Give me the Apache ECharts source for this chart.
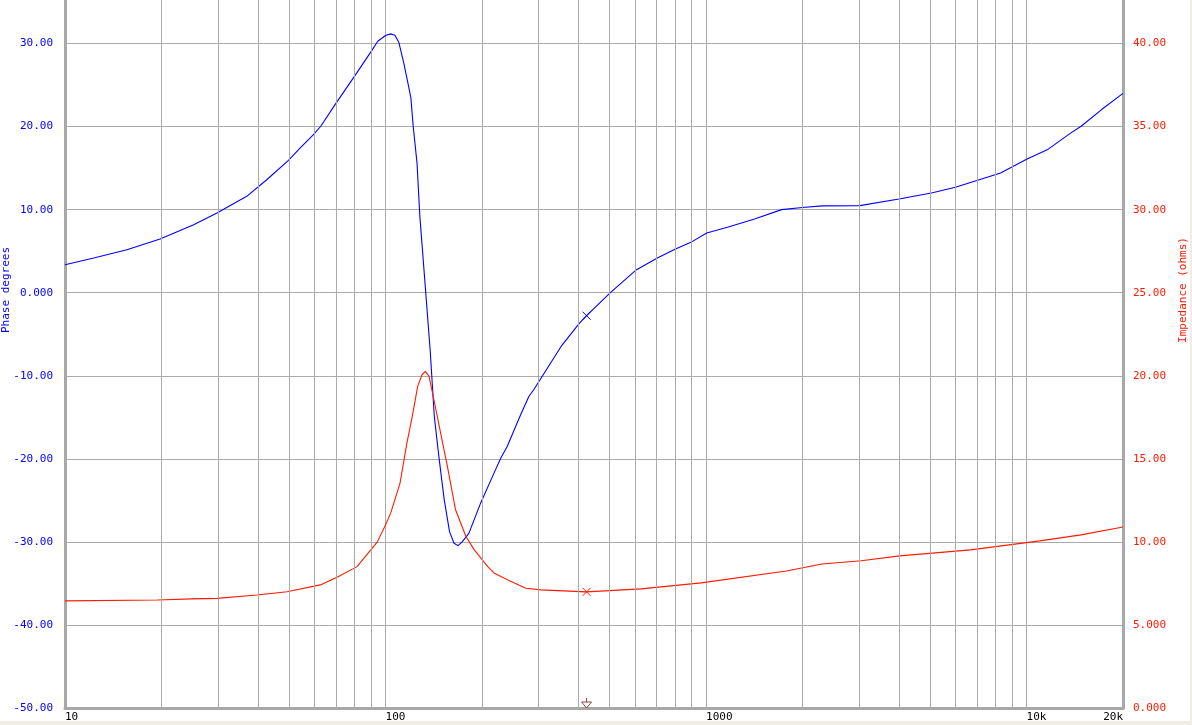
<!DOCTYPE html>
<html><head><meta charset="utf-8">
<script src="https://cdn.jsdelivr.net/npm/echarts@6/dist/echarts.min.js"></script>
<style>
html,body{margin:0;padding:0;background:#f0eee4;}
#bg{position:absolute;left:0;top:0;width:1190px;height:721px;background:#ffffff;}
#chart{position:absolute;left:0;top:0;width:1192px;height:725px;}
</style></head><body><div id="bg"></div><div id="chart"></div>
<script>
// Phase (degrees) vs frequency (Hz)
const phaseFreq = [10,12.3,15.6,19.8,25.2,29.8,36.9,42.6,49.8,54.2,59.6,62.8,69.6,79.4,89.6,94.6,100,103.7,107,110,114,118,120,122,125.4,128,137.8,142,146.7,152.5,158.4,163.6,168.4,173.7,182,198,218,229,239.7,264,280,290,313,353,403,424,504,607,705,800,897,1005,1166,1418,1720,2000,2300,3020,4000,5050,6000,7000,8300,10040,11600,13760,14800,17150,20000];
const phaseDeg  = [3.37,4.18,5.18,6.47,8.19,9.6,11.6,13.6,15.94,17.43,19.04,20.04,22.65,25.87,28.88,30.28,30.96,31.16,31.0,30.16,27.67,24.86,23.46,20.04,15.63,9.19,-6.87,-14.9,-19.7,-24.94,-28.76,-30.16,-30.45,-29.96,-28.98,-25.34,-21.72,-19.9,-18.52,-14.7,-12.5,-11.69,-9.67,-6.47,-3.66,-2.77,0.04,2.77,4.18,5.24,6.06,7.19,7.87,8.87,10.0,10.25,10.45,10.48,11.28,12.0,12.69,13.5,14.42,16.1,17.2,19.24,20.04,22.05,24.0];
// Impedance (ohms) vs frequency (Hz)
const impFreq = [10,19.4,24.9,29.8,39.7,49.3,62.6,70.6,81.5,94.3,100,103.8,111,116.6,121.2,126,130,133.2,136.7,143,148.6,156,165.4,178.2,189.3,208.5,218.8,241,274,305,424,627,966,1780,2300,3050,4020,6700,11000,14800,20000];
const impOhm  = [6.45,6.5,6.57,6.6,6.8,7.0,7.41,7.87,8.51,10.0,11.02,11.73,13.54,15.95,17.55,19.36,20.06,20.26,19.96,18.15,16.55,14.54,11.93,10.32,9.52,8.51,8.11,7.71,7.21,7.11,6.99,7.17,7.53,8.25,8.67,8.86,9.16,9.52,10.06,10.42,10.9];
// cursor
const cursorFreq = [424];
const cursorPhase = [-2.77];
const cursorImp = [6.99];
// minor vertical grid lines (Hz)
const minorGrid = [20,30,40,50,60,70,80,90,200,300,400,500,600,700,800,900,2000,3000,4000,5000,6000,7000,8000,9000];
// tick labels
const xTickValues = [10,100,1000,10000];
const xTickTexts = ['10','100','1000','10k'];
const xEndValue = [20000];
const xEndText = ['20k'];

const FONT = 'DejaVu Sans Mono';
const BLUE = '#0000ff';
const RED = '#ff1a00';
const GRID = '#ababab';

function numFmt(v){ return Math.abs(v) >= 10 ? v.toFixed(2) : v.toFixed(3); }
function xLab(v){ const i = xTickValues.findIndex(t => Math.abs(t - v) / t < 1e-6); return i >= 0 ? xTickTexts[i] : ''; }
function xEnd(v){ return Math.abs(v - xEndValue[0]) / xEndValue[0] < 1e-6 ? xEndText[0] : ''; }

const chart = echarts.init(document.getElementById('chart'));
chart.setOption({
  animation: false,
  backgroundColor: 'transparent',
  grid: { left: 65, right: 69, top: 0, bottom: 17, containLabel: false, outerBoundsMode: 'none' },
  xAxis: [{
    type: 'log', logBase: 10, min: 10, max: 20000, position: 'bottom',
    axisLine: { show: true, onZero: false, lineStyle: { color: '#a8a8a8', width: 3 } },
    axisTick: { show: false },
    axisLabel: { show: true, formatter: xLab, align: 'left', margin: 4, color: '#000', fontFamily: FONT, fontSize: 11, showMinLabel: true, showMaxLabel: true, hideOverlap: false },
    splitLine: { show: true, showMinLine: false, showMaxLine: false, lineStyle: { color: GRID, width: 1 } }
  }, {
    type: 'log', logBase: 10, min: 10, max: 20000, position: 'bottom', gridIndex: 0,
    axisLine: { show: false, onZero: false }, axisTick: { show: false }, splitLine: { show: false },
    axisLabel: { show: true, formatter: xEnd, align: 'right', margin: 4, color: '#000', fontFamily: FONT, fontSize: 11, showMinLabel: false, showMaxLabel: true, hideOverlap: false }
  }],
  yAxis: [{
    type: 'value', min: -50, max: 35.24, interval: 10, position: 'left',
    name: 'Phase degrees', nameLocation: 'middle', nameGap: 53, nameMoveOverlap: false,
    nameTextStyle: { color: BLUE, fontFamily: FONT, fontSize: 11, padding: [0, 0, 0, 128] },
    axisLine: { show: true, onZero: false, lineStyle: { color: '#a8a8a8', width: 3 } },
    axisTick: { show: false },
    axisLabel: { formatter: numFmt, color: BLUE, fontFamily: FONT, fontSize: 11, margin: 12, showMaxLabel: false, showMinLabel: true },
    splitLine: { show: true, showMinLine: false, showMaxLine: false, lineStyle: { color: GRID, width: 1 } }
  }, {
    type: 'value', min: 0, max: 42.62, interval: 5, position: 'right',
    name: 'Impedance (ohms)', nameLocation: 'middle', nameGap: 55, nameMoveOverlap: false,
    nameTextStyle: { color: RED, fontFamily: FONT, fontSize: 11, padding: [0, 0, 0, 128] },
    axisLine: { show: true, onZero: false, lineStyle: { color: '#a8a8a8', width: 3 } },
    axisTick: { show: false },
    axisLabel: { formatter: numFmt, color: RED, fontFamily: FONT, fontSize: 11, margin: 10, showMaxLabel: false, showMinLabel: true },
    splitLine: { show: false }
  }],
  series: [{
    type: 'line', name: 'minor grid', xAxisIndex: 0, yAxisIndex: 0, data: [], z: 1, silent: true,
    markLine: {
      silent: true, symbol: ['none', 'none'], label: { show: false },
      lineStyle: { color: GRID, width: 1, type: 'solid' },
      emphasis: { disabled: true },
      data: minorGrid.map(f => ({ xAxis: f }))
    }
  }, {
    type: 'line', name: 'Phase', xAxisIndex: 0, yAxisIndex: 0, z: 3,
    data: phaseFreq.map((f, i) => [f, phaseDeg[i]]),
    symbol: 'none', smooth: false, lineStyle: { color: BLUE, width: 1.1 },
    markPoint: {
      silent: true, symbol: 'path://M0,0L10,10M10,0L0,10', symbolSize: 8,
      itemStyle: { color: 'transparent', borderColor: BLUE, borderWidth: 1 },
      label: { show: false },
      data: [{ coord: [cursorFreq[0], cursorPhase[0]] }]
    }
  }, {
    type: 'line', name: 'Impedance', xAxisIndex: 0, yAxisIndex: 1, z: 3,
    data: impFreq.map((f, i) => [f, impOhm[i]]),
    symbol: 'none', smooth: false, lineStyle: { color: RED, width: 1.1 },
    markPoint: {
      silent: true, label: { show: false },
      data: [
        { coord: [cursorFreq[0], cursorImp[0]], symbol: 'path://M0,0L10,10M10,0L0,10', symbolSize: 8,
          itemStyle: { color: 'transparent', borderColor: RED, borderWidth: 1 } },
        { coord: [cursorFreq[0], 0], symbol: 'path://M5,0L5,4M0,4L10,4L5,10Z', symbolSize: [10, 10], symbolOffset: [0, -5],
          itemStyle: { color: 'transparent', borderColor: '#8b4545', borderWidth: 1 } }
      ]
    }
  }]
});
</script></body></html>
